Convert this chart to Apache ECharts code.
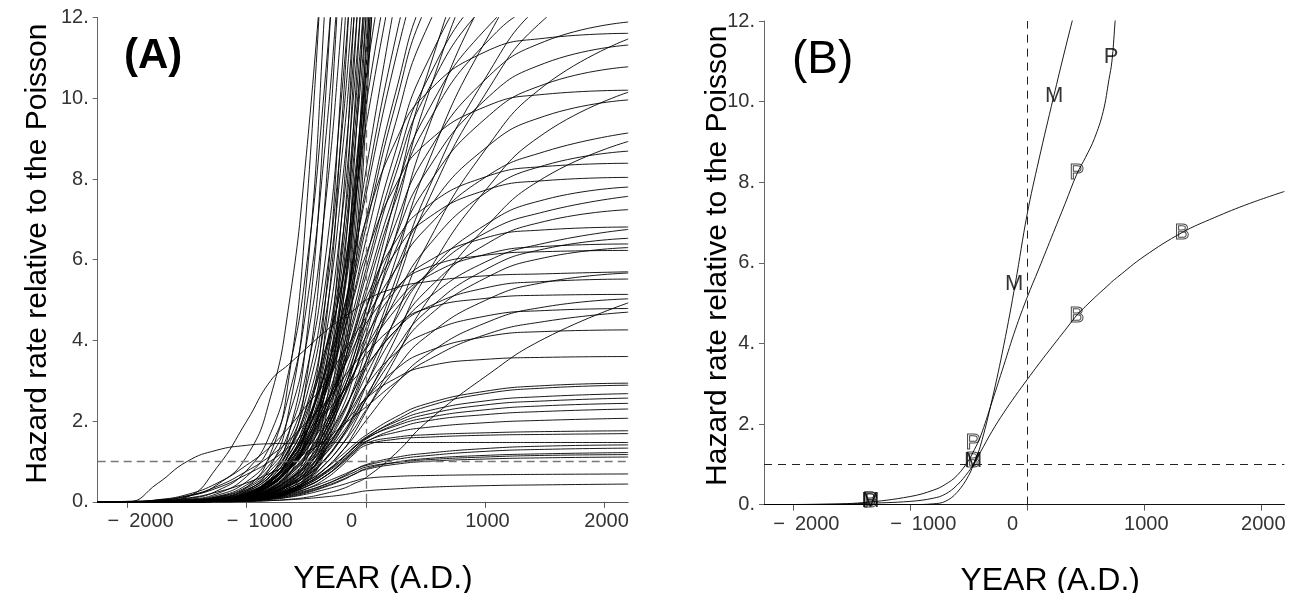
<!DOCTYPE html>
<html><head><meta charset="utf-8">
<script src="https://cdn.jsdelivr.net/npm/echarts@6/dist/echarts.min.js"></script>
<style>html,body{margin:0;padding:0;background:#fff}#c{width:1304px;height:593px}</style>
</head><body><div id="c"></div>
<script>
// ---------------- Panel A data ----------------
const yearsA = [-2250,-2000,-1750,-1500,-1250,-1000,-800,-650,-500,-350,-200,-100,0,250,500,1000,1500,2200];

const lowCurves = [
[0,0,0,0,0,0.01,0.03,0.05,0.08,0.12,0.17,0.22,0.27,0.32,0.36,0.40,0.42,0.44],
[0,0,0,0,0,0.02,0.06,0.11,0.19,0.3,0.42,0.51,0.58,0.63,0.65,0.67,0.68,0.69],
[0,0,0,0,0.01,0.03,0.08,0.14,0.24,0.38,0.55,0.68,0.8,0.93,1.0,1.06,1.09,1.11],
[0,0,0,0,0.01,0.04,0.1,0.17,0.28,0.42,0.6,0.73,0.86,0.97,1.04,1.11,1.15,1.17],
[0,0,0,0,0,0.02,0.06,0.12,0.22,0.36,0.53,0.68,0.82,0.98,1.07,1.15,1.19,1.22],
[0,0,0,0,0.01,0.05,0.12,0.2,0.32,0.48,0.66,0.79,0.9,1.05,1.14,1.25,1.3,1.33],
[0,0,0,0,0,0.03,0.08,0.15,0.26,0.42,0.62,0.78,0.92,1.1,1.2,1.32,1.38,1.41],
[0,0,0.45,1.0,1.28,1.4,1.44,1.45,1.46,1.46,1.47,1.47,1.47,1.47,1.47,1.47,1.47,1.47],
[0,0,0,0,0.01,0.04,0.1,0.18,0.32,0.55,0.9,1.18,1.4,1.55,1.6,1.65,1.67,1.69],
[0,0,0,0,0.01,0.05,0.13,0.22,0.38,0.62,0.98,1.24,1.45,1.6,1.66,1.71,1.74,1.76],
[0,0,0,0,0.02,0.06,0.15,0.25,0.42,0.68,1.02,1.28,1.5,1.72,1.84,1.96,2.02,2.07],
[0,0,0,0,0.01,0.05,0.13,0.22,0.38,0.62,0.95,1.22,1.48,1.8,2.0,2.16,2.24,2.3],
[0,0,0,0,0.02,0.07,0.17,0.28,0.46,0.73,1.08,1.34,1.57,1.88,2.08,2.28,2.38,2.44],
[0,0,0,0,0.01,0.04,0.12,0.21,0.37,0.62,0.98,1.28,1.55,1.92,2.16,2.4,2.5,2.57],
[0,0,0,0,0.02,0.06,0.16,0.27,0.45,0.72,1.08,1.36,1.6,1.98,2.24,2.5,2.61,2.68],
[0,0,0,0,0.01,0.05,0.14,0.24,0.42,0.7,1.06,1.34,1.58,2.02,2.35,2.68,2.82,2.89],
[0,0,0,0,0.02,0.07,0.18,0.3,0.5,0.8,1.16,1.42,1.65,2.1,2.42,2.74,2.88,2.94],
[0,0,0,0,0,0.01,0.03,0.06,0.11,0.2,0.32,0.45,0.6,1.2,1.95,3.1,4.05,4.93]
];

const midCurves = [
[0,0,0,0,0.04,0.11,0.29,0.54,0.9,1.37,1.87,2.23,2.56,3.06,3.35,3.53,3.58,3.6],
[0,0,0,0,0.02,0.09,0.21,0.43,0.72,1.15,1.7,2.13,2.56,3.28,3.71,4.09,4.22,4.26],
[0,0,0.02,0.09,0.24,0.47,0.71,0.94,1.22,1.5,1.88,2.12,2.35,2.96,3.48,4.14,4.47,4.7],
[0,0,0,0,0.02,0.1,0.24,0.48,0.81,1.29,1.92,2.4,2.87,3.69,4.17,4.6,4.74,4.79],
[0,0,0,0,0.02,0.05,0.15,0.3,0.5,0.8,1.26,1.61,2.01,2.92,3.62,4.43,4.83,5.03],
[0,0,0,0,0.05,0.15,0.41,0.77,1.29,1.95,2.67,3.19,3.65,4.37,4.78,5.04,5.12,5.14],
[0,0,0,0,0.03,0.11,0.28,0.55,0.94,1.49,2.21,2.76,3.31,4.25,4.8,5.3,5.46,5.52],
[0,0,0,0,0.02,0.06,0.17,0.34,0.57,0.91,1.42,1.81,2.27,3.29,4.08,4.99,5.44,5.67],
[0,0,0,0.12,0.85,2.0,3.0,3.4,3.8,4.2,4.55,4.75,5.0,5.3,5.45,5.6,5.65,5.7],
[0,0,0,0,0.06,0.19,0.5,0.93,1.56,2.37,3.24,3.86,4.42,5.3,5.79,6.11,6.2,6.23],
[0,0,0,0,0.02,0.06,0.19,0.38,0.63,1.01,1.58,2.02,2.52,3.65,4.54,5.54,6.05,6.3],
[0,0,0,0,0.03,0.13,0.32,0.64,1.09,1.73,2.56,3.2,3.83,4.92,5.56,6.13,6.33,6.39],
[0,0,0,0,0.02,0.07,0.2,0.39,0.65,1.04,1.63,2.09,2.61,3.79,4.7,5.75,6.27,6.53],
[0,0,0.03,0.14,0.34,0.68,1.01,1.35,1.76,2.16,2.7,3.04,3.38,4.25,5.0,5.94,6.41,6.75],
[0,0,0,0,0.03,0.14,0.34,0.68,1.16,1.84,2.72,3.41,4.09,5.24,5.92,6.54,6.74,6.81],
[0,0,0,0,0.02,0.07,0.22,0.43,0.72,1.16,1.81,2.32,2.9,4.2,5.21,6.37,6.95,7.24],
[0,0,0.04,0.15,0.38,0.76,1.14,1.51,1.97,2.42,3.03,3.41,3.79,4.77,5.6,6.66,7.19,7.57],
[0,0,0,0,0.02,0.08,0.23,0.47,0.78,1.25,1.95,2.5,3.12,4.52,5.62,6.86,7.49,7.8],
[0,0,0,0,0.04,0.16,0.4,0.8,1.37,2.17,3.22,4.02,4.82,6.19,6.99,7.72,7.96,8.04]
];

const highCurves = [
[0,0,0,0,0.04,0.17,0.42,0.84,1.43,2.27,3.36,4.2,5.03,6.46,7.3,8.05,8.31,8.39],
[0,0,0,0,0.03,0.09,0.26,0.52,0.87,1.39,2.17,2.78,3.48,5.04,6.26,7.65,8.34,8.69],
[0,0,0,0,0.01,0.04,0.13,0.27,0.45,0.8,1.25,1.7,2.23,3.57,4.91,6.79,8.04,8.93],
[0,0,0.05,0.18,0.46,0.91,1.37,1.83,2.38,2.92,3.66,4.11,4.57,5.76,6.76,8.04,8.68,9.14],
[0,0,0,0,0.03,0.1,0.3,0.6,1.0,1.59,2.49,3.19,3.98,5.78,7.17,8.76,9.56,9.96],
[0,0,0,0,0.01,0.05,0.15,0.3,0.51,0.91,1.42,1.93,2.54,4.06,5.58,7.71,9.14,10.15],
[0,0,0,0,0.05,0.2,0.51,1.02,1.73,2.75,4.08,5.1,6.12,7.85,8.87,9.79,10.1,10.2],
[0,0,0,0,0.03,0.11,0.32,0.65,1.08,1.72,2.7,3.45,4.31,6.25,7.76,9.49,10.35,10.78],
[0,0,0,0,0.03,0.11,0.34,0.68,1.13,1.81,2.83,3.62,4.53,6.57,8.15,9.96,10.87,11.32],
[0,0,0,0,0.01,0.06,0.17,0.34,0.57,1.03,1.61,2.18,2.87,4.59,6.31,8.72,10.32,11.47],
[0,0,0,0,0.06,0.23,0.58,1.16,1.97,3.13,4.64,5.81,6.97,8.94,10.1,11.15,11.49,11.61],
[0,0,0,0,0.04,0.12,0.36,0.71,1.19,1.9,2.97,3.8,4.76,6.9,8.56,10.46,11.41,11.89]
];

const steepCurves = [
[0,0,0,0.02,0.08,0.36,1.2,3.0,7.2,14.6],
[0,0,0,0.01,0.06,0.27,0.88,2.2,5.4,12,21],
[0,0.01,0.03,0.08,0.27,0.78,1.7,3.2,5.8,10.2,16],
[0,0,0,0.01,0.04,0.2,0.65,1.65,4.0,9.5,17.5],
[0,0,0,0.01,0.03,0.15,0.48,1.2,3.0,7.2,14.6],
[0,0,0.02,0.06,0.2,0.63,1.4,2.6,4.8,8.6,14,17.5],
[0,0,0.02,0.05,0.16,0.5,1.13,2.1,3.9,7.1,12,16],
[0,0,0,0,0.02,0.1,0.31,0.76,1.9,4.7,10.7,16],
[0,0,0.01,0.04,0.13,0.42,0.95,1.7,3.2,5.8,10.2,14,18],
[0,0,0,0,0.02,0.08,0.27,0.65,1.65,4.0,9.5,14.6],
[0,0,0,0,0.01,0.06,0.2,0.48,1.2,3.0,7.2,12,17.5],
[0,0,0.01,0.03,0.11,0.34,0.78,1.4,2.6,4.8,8.6,12,16],
[0,0,0,0,0.01,0.04,0.15,0.36,0.88,2.2,5.4,9.5,14.6],
[0,0,0.01,0.02,0.08,0.27,0.63,1.13,2.1,3.9,7.1,10.2,14,24],
[0,0,0,0,0.01,0.04,0.13,0.31,0.76,1.9,4.7,8.3,13.3],
[0,0,0.01,0.02,0.07,0.23,0.56,1.04,1.9,3.55,6.45,9.4,13],
[0,0,0,0,0.01,0.03,0.11,0.27,0.65,1.65,4.0,7.2,12,26],
[0,0,0,0.02,0.06,0.2,0.5,0.95,1.7,3.2,5.8,8.6,12,22],
[0,0,0,0,0,0.02,0.1,0.24,0.56,1.4,3.5,6.3,10.7,25],
[0,0,0,0.01,0.05,0.18,0.46,0.86,1.55,2.9,5.3,7.85,11.1,21],
[0,0,0,0,0,0.02,0.08,0.2,0.48,1.2,3.0,5.4,9.5,24],
[0,0,0,0.01,0.05,0.16,0.42,0.78,1.4,2.6,4.8,7.1,10.2,20],
[0,0,0,0,0.01,0.03,0.1,0.25,0.6,1.5,3.75,6.75,11.35,25.5],
[0,0,0.01,0.02,0.06,0.21,0.53,1.0,1.8,3.4,6.1,9.0,12.5,22],
[0,0,0,0,0.01,0.05,0.18,0.42,1.04,2.6,6.3,10.75,16],
[0,0,0.01,0.03,0.1,0.3,0.7,1.27,2.35,4.35,7.85,11.1,15],
[0,0,0,0,0,0.02,0.09,0.22,0.52,1.3,3.25,5.85,10.1,24.5],
[0,0,0,0.01,0.05,0.17,0.44,0.82,1.47,2.75,5.05,7.5,10.7,20.5],
[0,0.01,0.04,0.13,0.42,1.13,2.6,4.8,8.6,14],
[0,0,0.01,0.04,0.12,0.37,0.85,1.5,2.85,5.2,9.2,12.8]
];

const riseCurves = [
[0,0,0,0.01,0.06,0.25,0.65,1.25,2.2,3.6,5.5,7.7,10.5,15],
[0,0,0,0.01,0.05,0.2,0.55,1.05,1.9,3.2,5.0,7.2,9.8,14],
[0,0,0,0.02,0.08,0.3,0.7,1.3,2.3,3.7,5.4,7.3,9.3,13.3],
[0,0,0,0,0.03,0.14,0.4,0.8,1.5,2.6,4.3,6.2,8.2,12.5],
[0,0,0,0.01,0.04,0.16,0.45,0.9,1.7,2.9,4.5,6.0,7.8,11.5,14.5],
[0,0,0,0.01,0.05,0.2,0.55,1.05,1.9,3.1,4.6,6.1,7.6,11.0,13.8]
];

const lateCurves = [
[0,0,0,0,0.01,0.07,0.2,0.4,0.67,1.2,1.86,2.53,3.33,5.32,7.32,10.1,11.97,13.3],
[0,0,0,0,0.01,0.07,0.21,0.41,0.69,1.24,1.93,2.62,3.45,5.52,7.59,10.49,12.42,13.8],
[0,0,0,0,0.04,0.13,0.39,0.77,1.29,2.06,3.23,4.13,5.16,7.48,9.29,11.35,12.38,12.9],
[0,0,0,0,0.04,0.13,0.4,0.8,1.33,2.13,3.33,4.26,5.32,7.71,9.58,11.7,12.77,13.3],
[0,0,0,0,0.01,0.08,0.23,0.45,0.75,1.35,2.1,2.85,3.75,6.0,8.25,11.4,13.5,15],
[0,0,0,0,0.04,0.14,0.42,0.84,1.4,2.24,3.5,4.48,5.6,8.12,10.08,12.32,13.44,14],
[0,0,0,0,0.01,0.08,0.25,0.5,0.83,1.49,2.31,3.14,4.13,6.6,9.08,12.54,14.85,16.5],
[0,0,0,0,0.04,0.14,0.43,0.86,1.44,2.3,3.6,4.61,5.76,8.35,10.37,12.67,13.82,14.4],
[0,0,0,0,0.01,0.09,0.27,0.54,0.9,1.62,2.52,3.42,4.5,7.2,9.9,13.68,16.2,18],
[0,0,0,0,0.05,0.15,0.45,0.9,1.5,2.4,3.75,4.8,6.0,8.7,10.8,13.2,14.4,15],
[0,0,0,0,0.01,0.1,0.29,0.57,0.95,1.71,2.66,3.61,4.75,7.6,10.45,14.44,17.1,19],
[0,0,0,0,0.05,0.16,0.49,0.97,1.62,2.59,4.05,5.18,6.48,9.4,11.66,14.26,15.55,16.2],
[0,0,0,0,0.05,0.17,0.51,1.02,1.7,2.72,4.25,5.44,6.8,9.86,12.24,14.96,16.32,17],
[0,0,0,0,0.05,0.18,0.53,1.05,1.75,2.8,4.38,5.6,7.0,10.15,12.6,15.4,16.8,17.5]
];

// ---------------- Panel B data ----------------
const yearsB = [-2250,-1750,-1400,-1000,-800,-700,-600,-500,-450,-400,-300,-200,-100,0,100,225,325,425,500,575,650,700,725,750,775,1000,1325,1600,1900,2200];
const curveM = [0,0,0,0,0.02,0.08,0.3,0.72,1.07,1.45,2.6,3.95,5.5,7.2,8.55,10.1,11.3,12.45];
const curveP = [0,0.01,0.05,0.2,0.36,0.5,0.72,1.1,1.37,1.68,2.55,3.45,4.35,5.14,5.85,6.75,7.47,8.2,8.62,9.08,9.75,10.55,11.0,11.9,13.0];
const curveB = [0,0.005,0.03,0.08,0.16,0.26,0.48,0.82,1.05,1.3,1.82,2.28,2.7,3.1,3.49,3.96,4.33,4.7,4.92,5.13,5.33,5.46,5.53,5.59,5.65,6.16,6.75,7.12,7.47,7.77];

const markerYears   = [-1340,-1340,-1340,-462,-462,-462,-111,231,425,718,425,1325];
const markerValues  = [0.08,0.08,0.08,1.09,1.54,1.09,5.48,10.14,8.23,11.1,4.69,6.74];
const markerLetters = ['B','P','M','M','P','B','M','M','P','P','B','B'];

// ---------------- axes ----------------
const xMin = -2250, xMax = 2200;
const yMin = 0, yMax = 12, yStep = 2;
const xTicks = [-2000,-1000,0,1000,2000];
const xTickLabels = ['\u2212\u20022000','\u2212\u20021000','0','1000','2000'];
const refLevel = 1;     // Poisson reference
const refYear = 0;

// ---------------- layout / style ----------------
const FONT = '"Liberation Sans", Arial, sans-serif';
const gridA = {left: 97.7, top: 17.6, width: 530.5, height: 484.2};
const gridB = {left: 764, top: 21, width: 520.4, height: 483.6};

function xAxisFor(gridIndex, gridW, lineColor, titleShift) {
  const yrsPerPx = (xMax - xMin) / gridW;
  const shift = 20 * yrsPerPx;
  const labelVals = xTicks.map(v => v - shift);
  return {
    type: 'value', gridIndex: gridIndex, min: xMin, max: xMax,
    axisLine: {show: true, onZero: false, lineStyle: {color: lineColor, width: 1}},
    axisTick: {show: true, customValues: xTicks, length: 6, lineStyle: {color: '#555'}},
    axisLabel: {
      customValues: labelVals, align: 'left', margin: 10,
      fontSize: 20, color: '#333', fontFamily: FONT,
      formatter: function (v) {
        let best = 0, bd = Infinity;
        labelVals.forEach((u, i) => { const d = Math.abs(u - v); if (d < bd) { bd = d; best = i; } });
        return xTickLabels[best];
      }
    },
    splitLine: {show: false},
    name: 'YEAR (A.D.)', nameLocation: 'middle', nameGap: 61, nameMoveOverlap: false,
    nameTextStyle: {fontSize: 32, color: '#000', fontFamily: FONT, padding: [0, 0, 0, titleShift]}
  };
}
function yAxisFor(gridIndex, gap, lift) {
  return {
    type: 'value', gridIndex: gridIndex, min: yMin, max: yMax, interval: yStep,
    axisLine: {show: true, onZero: false, lineStyle: {color: '#666', width: 1}},
    axisTick: {show: true, length: 5, lineStyle: {color: '#666'}},
    axisLabel: {formatter: v => v + '.', fontSize: 20, color: '#333', margin: 9, fontFamily: FONT},
    splitLine: {show: false},
    name: 'Hazard rate relative to the Poisson', nameLocation: 'middle', nameRotate: 90, nameGap: gap,
    nameMoveOverlap: false,
    nameTextStyle: {fontSize: 30, color: '#000', fontFamily: FONT, padding: [0, 0, 0, lift]}
  };
}

const lineBase = {
  type: 'line', symbol: 'none', smooth: 0.5, silent: true,
  clip: true, animation: false, lineStyle: {color: '#000', width: 0.9}
};

const allA = [].concat(lowCurves, midCurves, highCurves, steepCurves, riseCurves, lateCurves);
const series = allA.map((row, k) => {
  const s = Object.assign({}, lineBase, {
    xAxisIndex: 0, yAxisIndex: 0,
    data: row.map((v, i) => [yearsA[i], v])
  });
  if (k === 0) {
    s.markLine = {
      silent: true, symbol: ['none', 'none'], label: {show: false}, animation: false,
      lineStyle: {type: [8, 5], color: '#777', width: 1.3},
      data: [{yAxis: refLevel}, {xAxis: refYear}]
    };
  }
  return s;
});

[curveM, curveP, curveB].forEach((row, k) => {
  const s = Object.assign({}, lineBase, {
    xAxisIndex: 1, yAxisIndex: 1, smooth: 0.4,
    data: row.map((v, i) => [yearsB[i], v])
  });
  if (k === 0) {
    s.markLine = {
      silent: true, symbol: ['none', 'none'], label: {show: false}, animation: false,
      lineStyle: {type: [8, 6], color: '#222', width: 1},
      data: [{yAxis: refLevel}, {xAxis: refYear}]
    };
  }
  series.push(s);
});

series.push({
  type: 'scatter', xAxisIndex: 1, yAxisIndex: 1, silent: true, animation: false,
  symbolSize: 0.1, itemStyle: {color: 'rgba(0,0,0,0)'},
  data: markerYears.map((x, i) => {
    const letter = markerLetters[i];
    const solid = letter === 'M' || (letter === 'P' && markerValues[i] > 10);
    return {
      value: [x, markerValues[i]], name: letter,
      label: solid
        ? {show: true, position: 'inside', formatter: '{b}', fontSize: 22, fontFamily: FONT, color: '#000'}
        : {show: true, position: 'inside', formatter: '{b}', fontSize: 22, fontFamily: FONT,
           color: 'rgba(255,255,255,0)', textBorderColor: '#111', textBorderWidth: 1}
    };
  })
});

const chart = echarts.init(document.getElementById('c'), null, {renderer: 'canvas'});
chart.setOption({
  animation: false,
  backgroundColor: '#fff',
  textStyle: {fontFamily: FONT},
  grid: [
    Object.assign({}, gridA, {containLabel: false, outerBoundsMode: 'none'}),
    Object.assign({}, gridB, {containLabel: false, outerBoundsMode: 'none'})
  ],
  xAxis: [xAxisFor(0, gridA.width, '#555', 40), xAxisFor(1, gridB.width, '#111', 52)],
  yAxis: [yAxisFor(0, 45, 12), yAxisFor(1, 31, 14)],
  graphic: [
    {type: 'text', left: 124, top: 35, silent: true,
     style: {text: '(A)', font: 'bold 42px ' + FONT, fill: '#000'}},
    {type: 'text', left: 792, top: 37, silent: true,
     style: {text: '(B)', font: '46px ' + FONT, fill: '#000'}}
  ],
  series: series
});
</script>
</body></html>
